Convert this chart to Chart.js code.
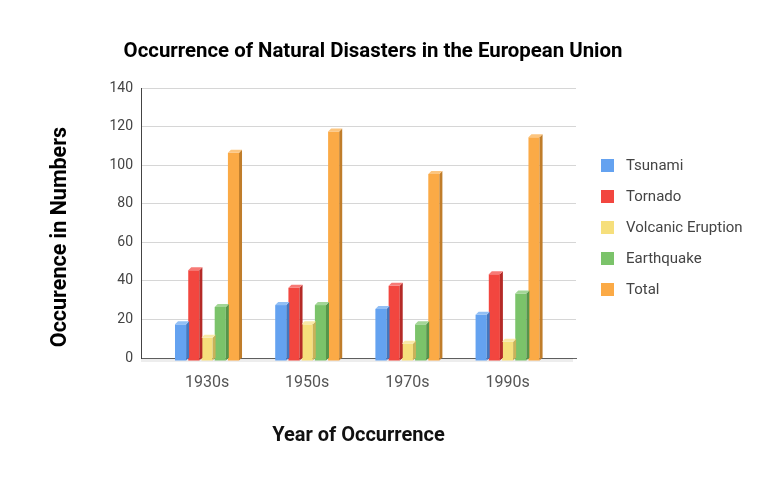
<!DOCTYPE html>
<html>
<head>
<meta charset="utf-8">
<script src="https://cdn.jsdelivr.net/npm/chart.js@4.4.0/dist/chart.umd.min.js"></script>
<style>
  html, body { margin: 0; padding: 0; background: #fff; }
  #wrap { position: relative; width: 773px; height: 480px; font-family: Roboto, sans-serif; }
  #legend { position: absolute; left: 601px; top: 0; }
  .item { position: absolute; left: 0; display: flex; align-items: center; white-space: nowrap; font-size: 15px; color: #444; height: 16px; }
  .box { width: 13px; height: 13px; margin-right: 12px; }
</style>
</head>
<body>
<div id="wrap">
  <canvas id="chart" width="773" height="480"></canvas>
  <div id="legend"></div>
</div>
<script>
// Data
const decades = ["1930s", "1950s", "1970s", "1990s"];
const tsunami = [19, 29, 27, 24];
const tornado = [47, 38, 39, 45];
const volcanic = [12, 19, 9, 10];
const earthquake = [28, 29, 19, 35];
const total = [108, 119, 97, 116];
const seriesNames = ["Tsunami", "Tornado", "Volcanic Eruption", "Earthquake", "Total"];
const yTicks = [0, 20, 40, 60, 80, 100, 120, 140];

const chartTitle = "Occurrence of Natural Disasters in the European Union";
const yTitle = "Occurence in Numbers";
const xTitle = "Year of Occurrence";

// Styles
const frontColors = ["#64a2f0", "#f2463f", "#f6df7c", "#7bc36a", "#fbaa46"];
const sideColors  = ["#4277bf", "#b52a27", "#c8b259", "#56954a", "#c07d2a"];
const topColors   = ["#92bff5", "#f77a76", "#f9eaa8", "#a3d696", "#fcc57f"];
const depth = 3;

const allSeries = [tsunami, tornado, volcanic, earthquake, total];
const datasets = allSeries.map((vals, i) => ({
  label: seriesNames[i],
  data: vals.map((v, j) => ({ x: j, y: v })),
  backgroundColor: frontColors[i],
  borderWidth: 0,
  categoryPercentage: 0.66,
  barPercentage: 0.84,
  clip: false,
}));

// 3D side/top faces + floor
const bars3d = {
  id: "bars3d",
  beforeDatasetsDraw(chart) {
    const { ctx, chartArea: a } = chart;
    ctx.save();
    ctx.fillStyle = "rgba(0,0,0,0.07)";
    ctx.fillRect(a.left, a.bottom, a.right - a.left - depth, depth + 1);
    ctx.restore();
    ctx.save();
    ctx.translate(0, depth);
  },
  afterDatasetsDraw(chart) {
    const ctx = chart.ctx;
    chart.data.datasets.forEach((ds, i) => {
      chart.getDatasetMeta(i).data.forEach((bar) => {
        const { x, y, base, width } = bar.getProps(["x", "y", "base", "width"], true);
        const l = x - width / 2, r = x + width / 2;
        ctx.fillStyle = sideColors[i];
        ctx.beginPath();
        ctx.moveTo(r, y);
        ctx.lineTo(r + depth, y - depth);
        ctx.lineTo(r + depth, base - depth);
        ctx.lineTo(r, base);
        ctx.closePath();
        ctx.fill();
        ctx.fillStyle = topColors[i];
        ctx.beginPath();
        ctx.moveTo(l, y);
        ctx.lineTo(l + depth, y - depth);
        ctx.lineTo(r + depth, y - depth);
        ctx.lineTo(r, y);
        ctx.closePath();
        ctx.fill();
      });
    });
    ctx.restore();
  },
};

// Main title + rotated y title
const titles = {
  id: "titles",
  afterDraw(chart) {
    const ctx = chart.ctx;
    ctx.save();
    ctx.fillStyle = "#000";
    ctx.textAlign = "center";
    ctx.textBaseline = "middle";
    ctx.font = "bold 20.4px Roboto";
    ctx.fillText(chartTitle, 373, 52);
    ctx.translate(61, 237);
    ctx.rotate(-Math.PI / 2);
    ctx.font = "bold 21.5px Roboto";
    ctx.fillText(yTitle, 0, 0);
    ctx.restore();
  },
};

// Legend
const legendEl = document.getElementById("legend");
const legendY = [165, 196, 227, 258, 289];
seriesNames.forEach((name, i) => {
  const item = document.createElement("div");
  item.className = "item";
  item.style.top = (legendY[i] - 8) + "px";
  item.innerHTML = `<span class="box" style="background:${frontColors[i]}"></span><span>${name}</span>`;
  legendEl.appendChild(item);
});

function draw() {
  new Chart(document.getElementById("chart").getContext("2d"), {
    type: "bar",
    data: { datasets },
    options: {
      responsive: false,
      animation: false,
      devicePixelRatio: 1,
      layout: { padding: { top: 88, right: 197, bottom: 32, left: 0 } },
      plugins: {
        legend: { display: false },
        title: { display: false },
        tooltip: { enabled: false },
      },
      scales: {
        x: {
          type: "linear",
          min: -0.659,
          max: 3.683,
          offset: false,
          grid: { display: false, drawTicks: false, offset: false },
          border: { color: "#666", width: 1 },
          afterBuildTicks: (scale) => { scale.ticks = decades.map((_, i) => ({ value: i })); },
          afterFit: (scale) => { scale.height = 90; },
          ticks: {
            autoSkip: false,
            maxRotation: 0,
            padding: 15,
            color: "#555",
            font: { family: "Roboto", size: 16 },
            callback: (v) => decades[v],
          },
          title: {
            display: true,
            text: xTitle,
            color: "#111",
            padding: 0,
            font: { family: "Roboto", size: 20, weight: "bold" },
          },
        },
        y: {
          min: 0,
          max: 140,
          afterBuildTicks: (scale) => { scale.ticks = yTicks.map((v) => ({ value: v })); },
          afterFit: (scale) => { scale.width = 141; },
          grid: {
            drawTicks: false,
            color: (c) => (c.tick && c.tick.value === 0 ? "#666" : "#d6d6d6"),
          },
          border: { color: "#444", width: 1 },
          ticks: {
            padding: 8,
            color: "#444",
            font: { family: "Roboto", size: 14 },
          },
        },
      },
    },
    plugins: [bars3d, titles],
  });
}

Promise.all([
  document.fonts.load("bold 20px Roboto"),
  document.fonts.load("16px Roboto"),
]).then(draw, draw);
</script>
</body>
</html>
